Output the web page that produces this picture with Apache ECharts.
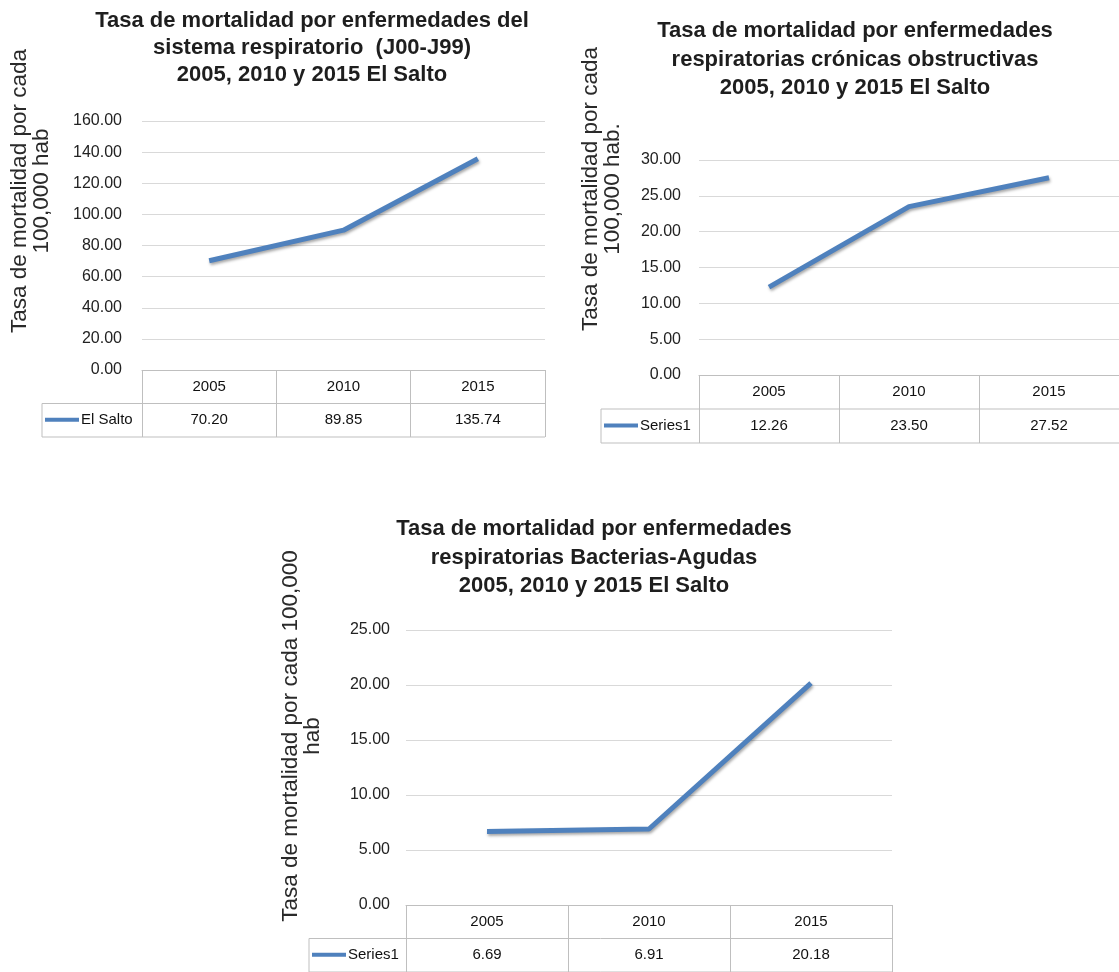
<!DOCTYPE html>
<html>
<head>
<meta charset="utf-8">
<script src="https://cdn.jsdelivr.net/npm/echarts@6/dist/echarts.min.js"></script>
<style>
html,body{margin:0;padding:0;background:#fff;}
#c{width:1119px;height:972px;}
</style>
</head>
<body>
<div id="c"></div>
<script>
// ---- data ----
const years = ['2005', '2010', '2015'];
const respiratorio = [70.20, 89.85, 135.74];
const cronicasObstructivas = [12.26, 23.50, 27.52];
const bacteriasAgudas = [6.69, 6.91, 20.18];
const seriesNames = ['El Salto', 'Series1', 'Series1'];
const titles = [
  ['Tasa de mortalidad por enfermedades del', 'sistema respiratorio  (J00-J99)', '2005, 2010 y 2015 El Salto'],
  ['Tasa de mortalidad por enfermedades', 'respiratorias crónicas obstructivas', '2005, 2010 y 2015 El Salto'],
  ['Tasa de mortalidad por enfermedades', 'respiratorias Bacterias-Agudas', '2005, 2010 y 2015 El Salto']
];
const axisNames = [
  ['Tasa de mortalidad por cada', '100,000 hab'],
  ['Tasa de mortalidad por cada', '100,000 hab.'],
  ['Tasa de mortalidad por cada 100,000', 'hab']
];
const yMax = [160, 30, 25];
const yStep = [20, 5, 5];
const values = [respiratorio, cronicasObstructivas, bacteriasAgudas];

// ---- layout ----
const layout = [
  {left: 142, top: 121, width: 403, height: 249, rowH: 33.5, labelLeft: 42, titleX: 312, titleTop: 7, titleLH: 27, nameX: 31, nameY: 191, labelMargin: 20},
  {left: 699, top: 160, width: 420, height: 215, rowH: 34, labelLeft: 601, titleX: 855, titleTop: 17, titleLH: 28.5, nameX: 602, nameY: 189, labelMargin: 18},
  {left: 406, top: 630, width: 486, height: 275, rowH: 33.5, labelLeft: 309, titleX: 594, titleTop: 515, titleLH: 28.5, nameX: 302, nameY: 736, labelMargin: 16}
];

const FONT = '"Liberation Sans", Arial, sans-serif';
const LINE_COLOR = '#4f81bd';
const BORDER = '#bfbfbf';

const chart = echarts.init(document.getElementById('c'), null, {renderer: 'canvas'});

const option = {
  backgroundColor: '#ffffff',
  animation: false,
  textStyle: {fontFamily: FONT},
  title: layout.map((L, i) => ({
    text: titles[i].join('\n'),
    left: L.titleX,
    top: L.titleTop,
    padding: 0,
    textAlign: 'center',
    textStyle: {fontFamily: FONT, fontSize: 22, fontWeight: 'bold', lineHeight: L.titleLH, color: '#1e1e1e'}
  })),
  grid: layout.map(L => ({left: L.left, top: L.top, width: L.width, height: L.height})),
  xAxis: layout.map((L, i) => ({
    type: 'category',
    gridIndex: i,
    data: years,
    boundaryGap: true,
    axisLine: {show: true, lineStyle: {color: BORDER, width: 1}},
    axisTick: {show: true, length: L.rowH * 2, lineStyle: {color: BORDER, width: 1}},
    splitLine: {show: false},
    axisLabel: {
      margin: 0,
      interval: 0,
      formatter: (v, idx) => '{yr|' + v + '}\n{val|' + values[i][idx].toFixed(2) + '}',
      rich: {
        yr: {fontSize: 15, lineHeight: L.rowH, color: '#111', fontFamily: FONT},
        val: {fontSize: 15, lineHeight: L.rowH, color: '#111', fontFamily: FONT}
      }
    }
  })),
  yAxis: layout.map((L, i) => ({
    type: 'value',
    gridIndex: i,
    min: 0,
    max: yMax[i],
    interval: yStep[i],
    axisLine: {show: false},
    axisTick: {show: false},
    splitLine: {show: true, lineStyle: {color: '#d9d9d9', width: 1}},
    axisLabel: {margin: L.labelMargin, fontSize: 16, color: '#222', fontFamily: FONT, formatter: v => v.toFixed(2)}
  })),
  legend: layout.map((L, i) => ({
    data: [seriesNames[i]],
    left: L.labelLeft + 3,
    top: L.top + L.height + L.rowH * 1.5 - 8,
    icon: 'rect',
    itemWidth: 34,
    itemHeight: 4,
    padding: 0,
    selectedMode: false,
    textStyle: {fontSize: 15, color: '#111', fontFamily: FONT, padding: [0, 0, 0, -3]}
  })),
  series: layout.map((L, i) => ({
    type: 'line',
    name: seriesNames[i],
    xAxisIndex: i,
    yAxisIndex: i,
    data: values[i],
    symbol: 'none',
    color: LINE_COLOR,
    lineStyle: {width: 5, color: LINE_COLOR, shadowColor: 'rgba(0,0,0,0.35)', shadowBlur: 3, shadowOffsetY: 2, shadowOffsetX: 1}
  })),
  graphic: []
};

layout.forEach((L, i) => {
  const right = L.left + L.width;
  const y1 = L.top + L.height + L.rowH;
  const y2 = L.top + L.height + 2 * L.rowH;
  option.graphic.push(
    {type: 'line', shape: {x1: L.labelLeft, y1: y1, x2: right, y2: y1}, style: {stroke: BORDER, lineWidth: 1}},
    {type: 'line', shape: {x1: L.labelLeft, y1: y2, x2: right, y2: y2}, style: {stroke: BORDER, lineWidth: 1}},
    {type: 'line', shape: {x1: L.labelLeft, y1: y1, x2: L.labelLeft, y2: y2}, style: {stroke: BORDER, lineWidth: 1}},
    {type: 'text', x: L.nameX, y: L.nameY, rotation: Math.PI / 2,
     style: {text: axisNames[i].join('\n'), align: 'center', verticalAlign: 'middle', fontSize: 22.5, lineHeight: 22, fontFamily: FONT, fill: '#2a2a2a'}}
  );
});

chart.setOption(option);
</script>
</body>
</html>
